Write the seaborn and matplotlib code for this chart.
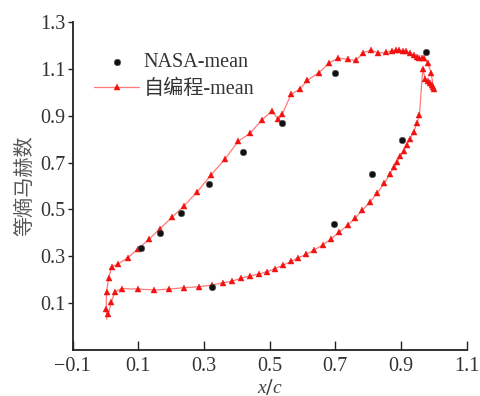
import numpy as np
import pandas as pd
import matplotlib
matplotlib.use("Agg")
import matplotlib.pyplot as plt
import seaborn as sns

# NASA experimental data
nasa_x = [0.108, 0.166, 0.230, 0.314, 0.419, 0.538, 0.700, 0.976, 0.902, 0.813, 0.697, 0.323]
nasa_y = [0.335, 0.401, 0.483, 0.610, 0.746, 0.870, 1.081, 1.172, 0.798, 0.650, 0.439, 0.169]

# self-coded result: pressure side (LE -> TE), trailing edge cluster, suction side (TE -> LE)
calc_x = [0.009, 0.017, 0.029, 0.049, 0.100, 0.149, 0.194, 0.240, 0.285, 0.324, 0.359, 0.386,
          0.414, 0.440, 0.466, 0.491, 0.516, 0.542, 0.565, 0.587, 0.611, 0.636, 0.661, 0.687,
          0.712, 0.737, 0.760, 0.782, 0.806, 0.828, 0.849, 0.866, 0.878, 0.887, 0.897, 0.908,
          0.917, 0.927, 0.938, 0.948, 0.956, 0.966,
          0.974, 0.981, 0.988, 0.993, 0.996, 0.999,
          0.992, 0.982, 0.970, 0.963, 0.956, 0.948, 0.939, 0.926, 0.915, 0.905, 0.895, 0.884,
          0.872, 0.854, 0.831, 0.809, 0.785, 0.762, 0.737, 0.709, 0.682, 0.650, 0.615, 0.592,
          0.565, 0.538, 0.526, 0.507, 0.477, 0.440, 0.404, 0.365, 0.320, 0.280, 0.239, 0.202,
          0.166, 0.132, 0.099, 0.068, 0.037, 0.019, 0.010, 0.003, 0.002, 0.004]
calc_y = [0.052, 0.103, 0.149, 0.162, 0.160, 0.156, 0.160, 0.166, 0.170, 0.177, 0.187, 0.194,
          0.207, 0.216, 0.224, 0.234, 0.247, 0.263, 0.278, 0.294, 0.308, 0.327, 0.348, 0.374,
          0.404, 0.432, 0.463, 0.496, 0.533, 0.571, 0.611, 0.651, 0.680, 0.701, 0.728, 0.749,
          0.774, 0.799, 0.830, 0.867, 0.903, 1.098,
          1.058, 1.048, 1.041, 1.031, 1.021, 1.015,
          1.081, 1.123, 1.145, 1.145, 1.145, 1.149, 1.158, 1.169, 1.176, 1.178, 1.179, 1.179,
          1.178, 1.170, 1.168, 1.180, 1.169, 1.136, 1.141, 1.146, 1.126, 1.084, 1.052, 1.014,
          0.991, 0.906, 0.884, 0.921, 0.883, 0.825, 0.791, 0.717, 0.645, 0.576, 0.515, 0.466,
          0.418, 0.372, 0.332, 0.294, 0.266, 0.256, 0.209, 0.149, 0.076, 0.031]

x_ticks = [-0.1, 0.1, 0.3, 0.5, 0.7, 0.9, 1.1]
y_ticks = [0.1, 0.3, 0.5, 0.7, 0.9, 1.1, 1.3]

sns.set_style("ticks")
plt.rcParams["font.family"] = ["Liberation Serif", "Noto Sans CJK SC"]
plt.rcParams["mathtext.fontset"] = "custom"
plt.rcParams["mathtext.it"] = "Liberation Serif:italic"
plt.rcParams["axes.unicode_minus"] = True

fig = plt.figure(figsize=(4.81, 3.96), dpi=100)
ax = fig.add_axes([0.1511, 0.1162, 0.8192, 0.8282])

nasa_df = pd.DataFrame({"x": nasa_x, "y": nasa_y})
calc_df = pd.DataFrame({"x": calc_x, "y": calc_y})

sns.lineplot(data=calc_df, x="x", y="y", sort=False, estimator=None, ax=ax,
             color="#ff7a7a", lw=0.9, marker="^", markersize=5.0,
             markerfacecolor="#f21010", markeredgecolor="#f21010", markeredgewidth=0.3,
             markevery=list(range(len(calc_x) - 1)), label="自编程-mean", zorder=2)
sns.scatterplot(data=nasa_df, x="x", y="y", ax=ax, color="#111111", s=22,
                edgecolor="#555555", linewidth=0.4, label="NASA-mean", zorder=3)

ax.set_xlim(-0.1, 1.1)
ax.set_ylim(-0.1, 1.3)
ax.set_xticks(x_ticks)
ax.set_yticks(y_ticks)
ax.set_xticklabels(["\u22120.1", "0.1", "0.3", "0.5", "0.7", "0.9", "1.1"])
ax.set_yticklabels([f"{v:.1f}" for v in y_ticks])
ax.tick_params(axis="x", direction="in", length=6.5, width=1.0, labelsize=14.5,
               pad=5, colors="#222222", labelcolor="#333333")
ax.tick_params(axis="y", direction="out", length=3.5, width=1.0, labelsize=14.5,
               pad=1.5, colors="#222222", labelcolor="#333333")
for s in ["top", "right"]:
    ax.spines[s].set_visible(False)
for s in ["left", "bottom"]:
    ax.spines[s].set_linewidth(1.3)
    ax.spines[s].set_color("#222222")

ax.set_xlabel("$x/c$", fontsize=14, color="#444444", labelpad=0.8)
ax.set_ylabel("等熵马赫数", fontsize=14.5, color="#555555", labelpad=4,
              family=["Noto Sans CJK SC"])

handles, labels = ax.get_legend_handles_labels()
order = [labels.index("NASA-mean"), labels.index("自编程-mean")]
leg = ax.legend([handles[i] for i in order], [labels[i] for i in order],
                loc="upper left", bbox_to_anchor=(0.055, 0.905), frameon=False,
                fontsize=14.5, handlelength=2.2, handletextpad=0.25,
                labelspacing=0.35, borderpad=0, borderaxespad=0)
for t in leg.get_texts():
    t.set_color("#333333")

fig.savefig("out.png", dpi=100)
